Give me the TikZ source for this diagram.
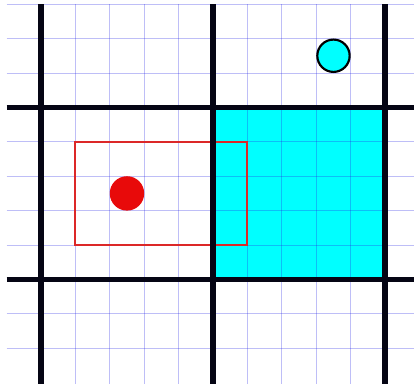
\documentclass[tikz,border=0pt]{standalone}
\begin{document}
\begin{tikzpicture}[x=1cm,y=1cm,
  thingrid/.style={draw={rgb,255:red,40;green,40;blue,230}, draw opacity=0.3, line width=0.6pt},
  thickline/.style={draw={rgb,255:red,5;green,5;blue,20}, line width=4.6pt},
  redrect/.style={draw={rgb,255:red,220;green,40;blue,40}, line width=1.6pt},
  reddot/.style={fill={rgb,255:red,232;green,10;blue,10}},
  cyancirc/.style={fill={rgb,255:red,0;green,255;blue,255}, draw=black, line width=1.8pt},
  cyanfill/.style={fill={rgb,255:red,0;green,255;blue,255}}]
\useasboundingbox (-1.19,-3.01) rectangle (10.84,8.12);
\fill[white] (-1.19,-3.01) rectangle (10.84,8.12);
% cyan square
\path[cyanfill] (5,0) rectangle (10,5);
% thin grid
\foreach \i in {0,...,10} {\draw[thingrid] (\i,8) -- (\i,-3.1);}
\foreach \j in {-2,...,8} {\draw[thingrid] (-1,\j) -- (10.9,\j);}
% red rectangle and dot
\draw[redrect] (1,1) rectangle (6,4);
\fill[reddot] (2.5,2.5) circle (0.5);
% thick lines
\foreach \i in {0,5,10} {\draw[thickline] (\i,8) -- (\i,-3.1);}
\foreach \j in {0,5} {\draw[thickline] (-1,\j) -- (10.9,\j);}
% cyan circle
\draw[cyancirc] (8.5,6.5) circle (0.47);
\end{tikzpicture}
\end{document}
